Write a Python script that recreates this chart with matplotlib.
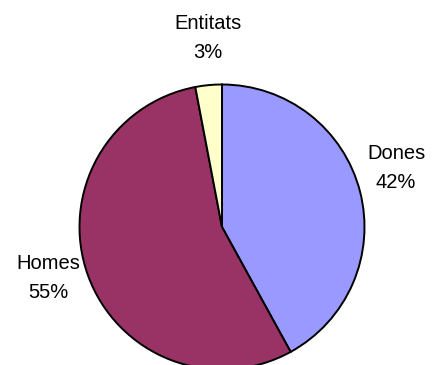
import matplotlib
matplotlib.use("Agg")
import matplotlib.pyplot as plt

categories = ["Dones", "Homes", "Entitats"]
shares = [42, 55, 3]
colors = ["#9999FF", "#993366", "#FFFFCC"]

# label anchor points (pixel space, y measured from the bottom)
label_xy = [(396, 197), (48, 87), (208, 327)]

W, H = 444, 365
fig = plt.figure(figsize=(W / 100, H / 100), dpi=100)
ax = fig.add_axes([0, 0, 1, 1])

ax.pie(shares, colors=colors, startangle=90, counterclock=False,
       center=(222, 138), radius=142.5, frame=True,
       wedgeprops=dict(edgecolor="black", linewidth=1.4))
ax.set_xlim(0, W)
ax.set_ylim(0, H)
ax.axis("off")

for name, val, (x, y) in zip(categories, shares, label_xy):
    ax.text(x, y, f"{name}\n{val}%", ha="center", va="center",
            fontsize=14.5, family="Liberation Sans", linespacing=1.65)

fig.savefig("out.png", dpi=100)
